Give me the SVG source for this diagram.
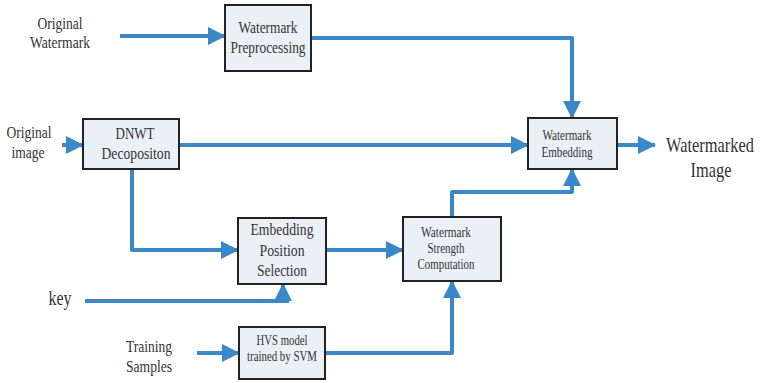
<svg xmlns="http://www.w3.org/2000/svg" width="760" height="383" viewBox="0 0 760 383">
  <style>
    .box { fill: #ebf0f7; stroke: #222; stroke-width: 2; }
    .flow { fill: none; stroke: #3b88c8; stroke-width: 4; stroke-linejoin: round; }
    .t { font-family: "Liberation Serif", "Times New Roman", serif; fill: #333; text-anchor: middle; }
    .t15 { font-size: 16px; }
    .t13 { font-size: 14px; }
    .t18 { font-size: 21px; }
  </style>
  <defs>
    <marker id="arrow" markerUnits="userSpaceOnUse" markerWidth="18" markerHeight="18" viewBox="0 0 18 18" refX="17" refY="9" orient="auto">
      <path d="M0,0 L18,9 L0,18 Z" fill="#3b88c8"/>
    </marker>
  </defs>

  <rect width="760" height="383" fill="#fff"/>

  <!-- free labels -->
  <g id="labels">
    <text class="t t15" x="60" y="29" textLength="45" lengthAdjust="spacingAndGlyphs">Original</text>
    <text class="t t15" x="60" y="48" textLength="60" lengthAdjust="spacingAndGlyphs">Watermark</text>
    <text class="t t15" x="29" y="138" textLength="45" lengthAdjust="spacingAndGlyphs">Original</text>
    <text class="t t15" x="28" y="158" textLength="33" lengthAdjust="spacingAndGlyphs">image</text>
    <!-- output label, narrowed horizontally -->
    <text class="t t18" transform="translate(710,152) scale(0.78,1)" x="0" y="0">Watermarked</text>
    <text class="t t18" transform="translate(711,177) scale(0.78,1)" x="0" y="0">Image</text>
    <text class="t t18" x="60" y="305" textLength="23" lengthAdjust="spacingAndGlyphs">key</text>
    <text class="t t15" x="149" y="352" textLength="46" lengthAdjust="spacingAndGlyphs">Training</text>
    <text class="t t15" x="149" y="372" textLength="46" lengthAdjust="spacingAndGlyphs">Samples</text>
  </g>

  <!-- connectors -->
  <g id="connectors">
    <path class="flow" d="M120,36 H225" marker-end="url(#arrow)"/>
    <path class="flow" d="M311,38 H572 V118" marker-end="url(#arrow)"/>
    <path class="flow" d="M62,145 H83" marker-end="url(#arrow)"/>
    <path class="flow" d="M179,145 H528" marker-end="url(#arrow)"/>
    <path class="flow" d="M617,145 H655" marker-end="url(#arrow)"/>
    <path class="flow" d="M132,169 V250 H238" marker-end="url(#arrow)"/>
    <path class="flow" d="M85,301 H289"/>
    <path class="flow" d="M283,301 V284" marker-end="url(#arrow)"/>
    <path class="flow" d="M326,250 H403" marker-end="url(#arrow)"/>
    <path class="flow" d="M452,217 V192 H572 V169" marker-end="url(#arrow)"/>
    <path class="flow" d="M197,353 H239" marker-end="url(#arrow)"/>
    <path class="flow" d="M325,353 H452 V281" marker-end="url(#arrow)"/>
  </g>

  <!-- blocks -->
  <g id="watermark-preprocessing">
    <rect class="box" x="225" y="5" width="86" height="66"/>
    <text class="t t15" x="268" y="33" textLength="59" lengthAdjust="spacingAndGlyphs">Watermark</text>
    <text class="t t15" x="268" y="53" textLength="75" lengthAdjust="spacingAndGlyphs">Preprocessing</text>
  </g>
  <g id="dnwt-decomposition">
    <rect class="box" x="83" y="119" width="96" height="50"/>
    <text class="t t15" x="135" y="139" textLength="39" lengthAdjust="spacingAndGlyphs">DNWT</text>
    <text class="t t15" x="136" y="159" textLength="69" lengthAdjust="spacingAndGlyphs">Decopositon</text>
  </g>
  <g id="watermark-embedding">
    <rect class="box" x="528" y="118" width="89" height="51"/>
    <text class="t t13" x="567" y="140" textLength="49" lengthAdjust="spacingAndGlyphs">Watermark</text>
    <text class="t t13" x="567" y="157" textLength="51" lengthAdjust="spacingAndGlyphs">Embedding</text>
  </g>
  <g id="embedding-position-selection">
    <rect class="box" x="238" y="218" width="88" height="66"/>
    <text class="t t15" x="282" y="235" textLength="63" lengthAdjust="spacingAndGlyphs">Embedding</text>
    <text class="t t15" x="282" y="256" textLength="45" lengthAdjust="spacingAndGlyphs">Position</text>
    <text class="t t15" x="282" y="276" textLength="50" lengthAdjust="spacingAndGlyphs">Selection</text>
  </g>
  <g id="watermark-strength-computation">
    <rect class="box" x="403" y="217" width="98" height="64"/>
    <text class="t t13" x="446" y="237" textLength="50" lengthAdjust="spacingAndGlyphs">Watermark</text>
    <text class="t t13" x="446" y="253" textLength="37" lengthAdjust="spacingAndGlyphs">Strength</text>
    <text class="t t13" x="446" y="269" textLength="57" lengthAdjust="spacingAndGlyphs">Computation</text>
  </g>
  <g id="hvs-model">
    <rect class="box" x="239" y="327" width="86" height="52"/>
    <text class="t t13" x="282" y="345" textLength="51" lengthAdjust="spacingAndGlyphs">HVS model</text>
    <text class="t t13" x="282" y="361" textLength="70" lengthAdjust="spacingAndGlyphs">trained by SVM</text>
  </g>
</svg>
